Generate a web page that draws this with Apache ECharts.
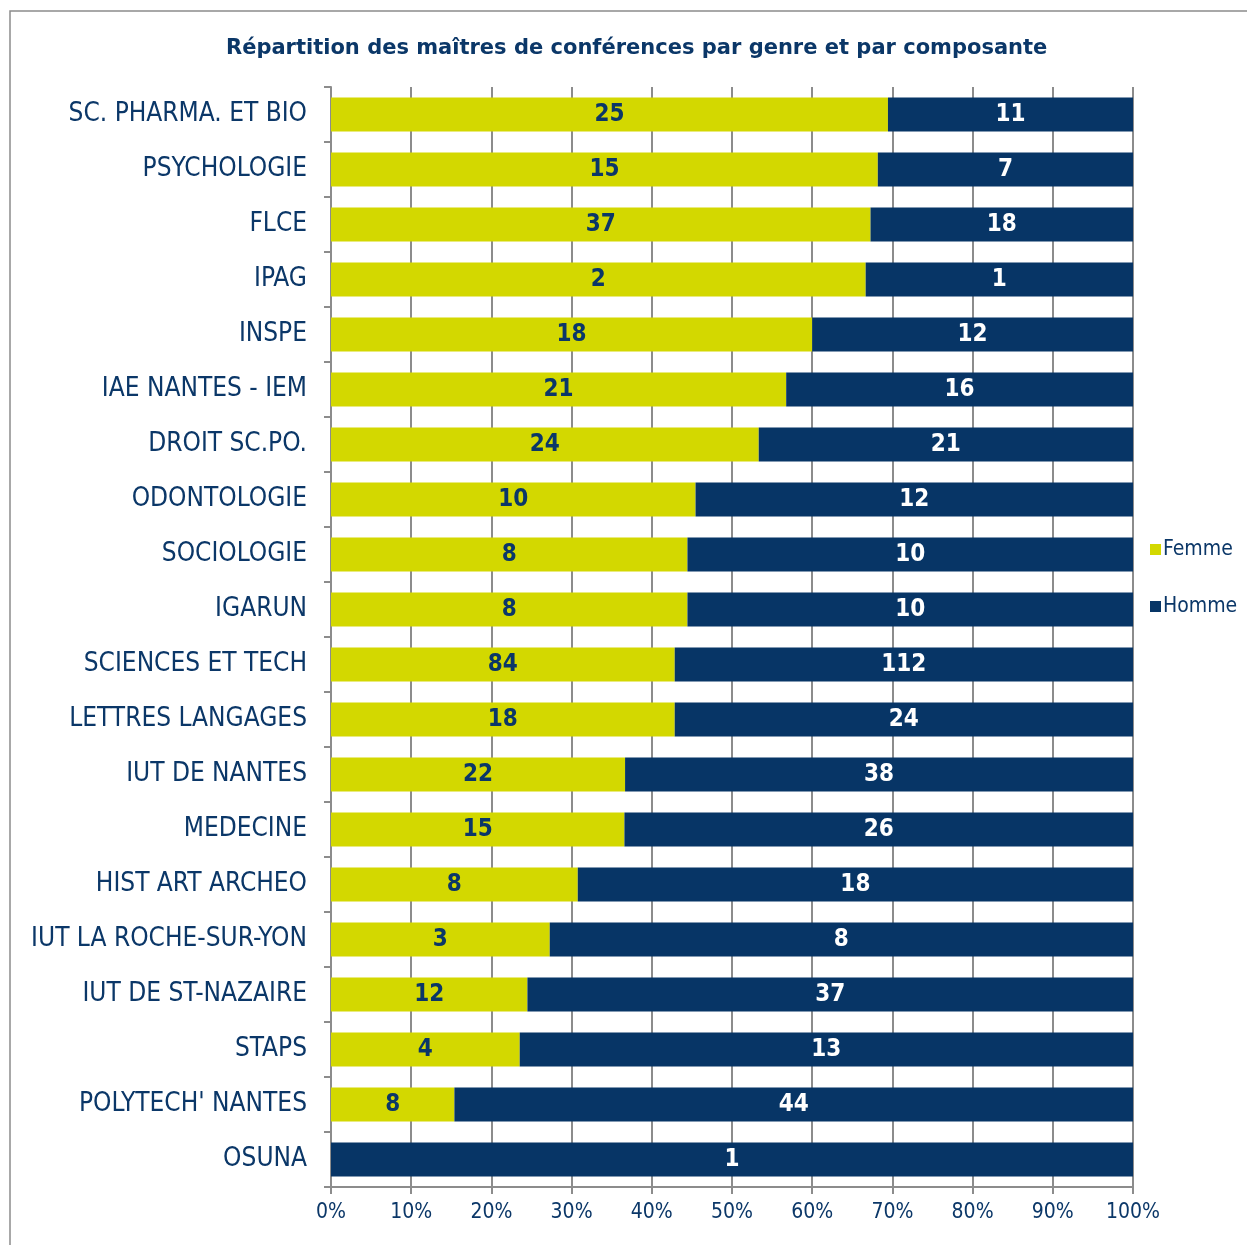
<!DOCTYPE html>
<html>
<head>
<meta charset="utf-8">
<script src="https://cdn.jsdelivr.net/npm/echarts@6/dist/echarts.min.js"></script>
<style>
  html, body { margin: 0; padding: 0; background: #fff; }
  #main { width: 1247px; height: 1245px; }
</style>
</head>
<body>
<div id="main"></div>
<script>
var categories = ['SC. PHARMA. ET BIO', 'PSYCHOLOGIE', 'FLCE', 'IPAG', 'INSPE', 'IAE NANTES - IEM',
    'DROIT SC.PO.', 'ODONTOLOGIE', 'SOCIOLOGIE', 'IGARUN', 'SCIENCES ET TECH', 'LETTRES LANGAGES',
    'IUT DE NANTES', 'MEDECINE', 'HIST ART ARCHEO', 'IUT LA ROCHE-SUR-YON', 'IUT DE ST-NAZAIRE',
    'STAPS', "POLYTECH' NANTES", 'OSUNA'];
var femme = [25, 15, 37, 2, 18, 21, 24, 10, 8, 8, 84, 18, 22, 15, 8, 3, 12, 4, 8, 0];
var homme = [11, 7, 18, 1, 12, 16, 21, 12, 10, 10, 112, 24, 38, 26, 18, 8, 37, 13, 44, 1];
var xTicks = [0, 10, 20, 30, 40, 50, 60, 70, 80, 90, 100];

var navy = '#0b3768';
var narrow = '"DejaVu Sans Condensed", "DejaVu Sans", sans-serif';
var wide = '"DejaVu Sans", sans-serif';

// share of each gender in the bar, the label shows the count
function share(arr, i) {
    var total = femme[i] + homme[i];
    return total ? arr[i] / total * 100 : 0;
}
var femmeData = femme.map(function (v, i) { return {value: share(femme, i), count: v}; });
var hommeData = homme.map(function (v, i) { return {value: share(homme, i), count: v}; });

function countLabel(p) {
    return p.data.count ? p.data.count : '';
}

var chart = echarts.init(document.getElementById('main'));
chart.setOption({
    animation: false,
    textStyle: {fontFamily: narrow},
    title: {
        text: 'Répartition des maîtres de conférences par genre et par composante',
        left: 221,
        top: 33,
        textStyle: {color: navy, fontSize: 21, fontWeight: 'bold', fontFamily: wide}
    },
    legend: {
        orient: 'vertical',
        left: 1145,
        top: 534,
        itemWidth: 11,
        itemHeight: 11,
        itemGap: 36,
        icon: 'rect',
        textStyle: {color: navy, fontSize: 21, fontFamily: narrow, padding: [0, 0, 0, -3]},
        data: ['Femme', 'Homme']
    },
    graphic: [{
        type: 'rect',
        shape: {x: 10, y: 11, width: 1260, height: 1260},
        style: {fill: 'none', stroke: '#8c8c8c', lineWidth: 1.5},
        silent: true
    }],
    grid: {left: 331, right: 114, top: 87, bottom: 58, containLabel: false},
    xAxis: {
        type: 'value',
        min: 0,
        max: 100,
        interval: 10,
        axisLine: {show: true, lineStyle: {color: '#8c8c8c', width: 2}},
        axisTick: {show: true, length: 7, lineStyle: {color: '#8c8c8c', width: 2}},
        splitLine: {show: true, lineStyle: {color: '#8c8c8c', width: 2}},
        axisLabel: {
            color: navy, fontSize: 21, margin: 15, fontFamily: narrow,
            formatter: function (v) { return xTicks.indexOf(v) >= 0 ? v + '%' : ''; }
        }
    },
    yAxis: {
        type: 'category',
        inverse: true,
        data: categories,
        axisLine: {show: true, lineStyle: {color: '#8c8c8c', width: 2}},
        axisTick: {show: true, length: 7, lineStyle: {color: '#8c8c8c', width: 2}},
        axisLabel: {color: navy, fontSize: 26, margin: 24, fontFamily: narrow}
    },
    series: [{
        name: 'Femme',
        type: 'bar',
        stack: 'total',
        barWidth: 34,
        itemStyle: {color: '#d3d800'},
        label: {
            show: true,
            position: 'inside',
            color: navy,
            fontSize: 24,
            fontWeight: 'bold',
            fontFamily: narrow,
            formatter: countLabel
        },
        data: femmeData
    }, {
        name: 'Homme',
        type: 'bar',
        stack: 'total',
        barWidth: 34,
        itemStyle: {color: '#073566'},
        label: {
            show: true,
            position: 'inside',
            color: '#ffffff',
            fontSize: 24,
            fontWeight: 'bold',
            fontFamily: narrow,
            formatter: countLabel
        },
        data: hommeData
    }]
});
</script>
</body>
</html>
